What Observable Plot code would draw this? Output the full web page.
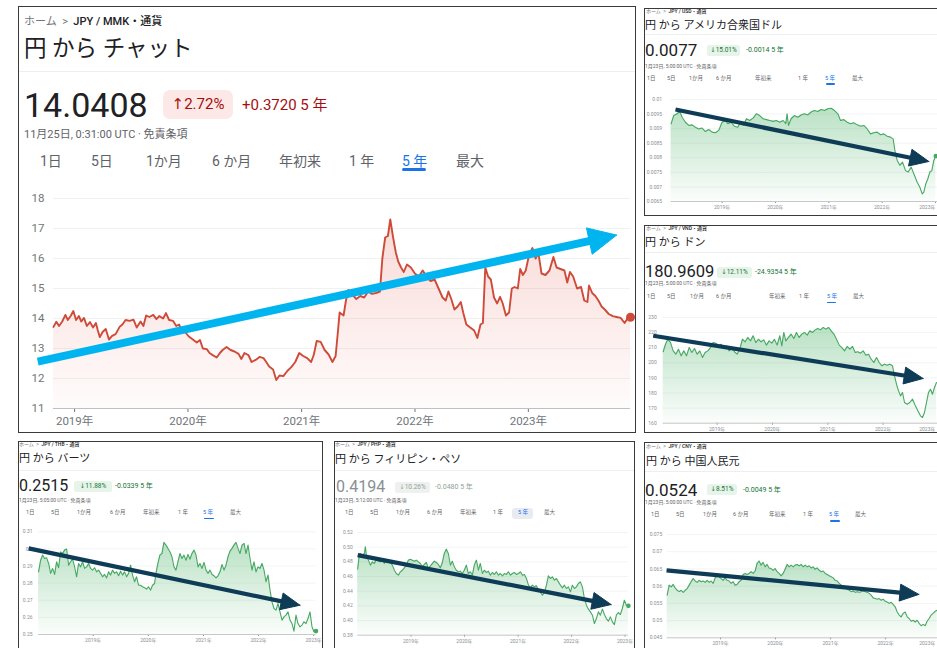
<!DOCTYPE html>
<html><head><meta charset="utf-8">
<script src="https://cdn.jsdelivr.net/npm/d3@7"></script>
<script src="https://cdn.jsdelivr.net/npm/@observablehq/plot@0.6"></script>
<style>
html,body{margin:0;padding:0;background:#fff;overflow:hidden;}
#page{position:relative;width:937px;height:648px;overflow:hidden;background:#fff;font-family:Roboto,"Noto Sans CJK JP",sans-serif;}
.panel{position:absolute;box-sizing:border-box;border:1.5px solid #3a3a3a;background:#fff;}
.t{position:absolute;white-space:pre;line-height:1;transform:translateY(-50%);}
.chart{position:absolute;}
.chart svg{max-width:none !important;overflow:visible;background:transparent !important;}
.badge{position:absolute;display:flex;align-items:center;justify-content:center;white-space:pre;line-height:1;font-family:Roboto,"DejaVu Sans","Noto Sans CJK JP",sans-serif;}
</style></head><body><div id="page"></div>
<script>
// ---------------- data ----------------
const yearTicks = [2019, 2020, 2021, 2022, 2023];

const mmk = [[2018.814,13.72],[2018.839,13.89],[2018.863,13.75],[2018.891,13.90],[2018.919,14.12],[2018.940,13.95],[2018.968,14.10],[2018.989,14.25],[2019.013,13.95],[2019.038,14.08],[2019.059,13.90],[2019.083,14.02],[2019.108,13.75],[2019.136,13.88],[2019.163,13.70],[2019.188,13.85],[2019.205,13.60],[2019.223,13.38],[2019.247,13.55],[2019.275,13.65],[2019.303,13.30],[2019.331,13.42],[2019.362,13.48],[2019.397,13.72],[2019.422,13.80],[2019.450,13.95],[2019.485,13.92],[2019.520,13.96],[2019.548,13.70],[2019.582,13.90],[2019.607,13.75],[2019.631,14.10],[2019.659,14.05],[2019.694,14.12],[2019.722,13.98],[2019.747,14.08],[2019.781,14.00],[2019.806,14.18],[2019.834,13.95],[2019.869,13.92],[2019.897,13.75],[2019.921,13.80],[2019.946,13.60],[2019.974,13.55],[2020.008,13.40],[2020.043,13.30],[2020.078,13.20],[2020.106,13.28],[2020.131,13.00],[2020.166,12.98],[2020.190,12.85],[2020.218,12.78],[2020.253,12.70],[2020.281,12.85],[2020.305,12.95],[2020.340,13.05],[2020.375,12.95],[2020.410,12.90],[2020.445,12.82],[2020.470,12.65],[2020.497,12.85],[2020.532,12.78],[2020.560,12.55],[2020.595,12.62],[2020.630,12.72],[2020.665,12.68],[2020.689,12.55],[2020.714,12.40],[2020.749,12.30],[2020.777,11.95],[2020.805,12.10],[2020.839,12.08],[2020.874,12.25],[2020.909,12.38],[2020.944,12.55],[2020.979,12.85],[2021.014,12.75],[2021.049,12.68],[2021.084,12.55],[2021.108,12.80],[2021.133,13.25],[2021.168,13.22],[2021.203,12.95],[2021.238,12.80],[2021.272,12.55],[2021.300,12.75],[2021.321,13.60],[2021.335,14.20],[2021.370,14.10],[2021.391,14.60],[2021.412,14.95],[2021.447,14.80],[2021.482,14.65],[2021.517,14.75],[2021.552,14.70],[2021.587,14.90],[2021.621,14.82],[2021.656,14.85],[2021.691,14.90],[2021.712,16.00],[2021.737,16.70],[2021.761,16.75],[2021.782,17.30],[2021.807,16.70],[2021.831,16.20],[2021.852,15.90],[2021.877,15.70],[2021.901,15.55],[2021.929,15.80],[2021.964,15.70],[2021.999,15.50],[2022.034,15.40],[2022.068,15.60],[2022.103,15.40],[2022.138,15.25],[2022.173,15.30],[2022.208,15.00],[2022.243,14.70],[2022.271,14.60],[2022.295,14.90],[2022.320,14.65],[2022.348,14.30],[2022.376,14.40],[2022.404,14.55],[2022.425,14.20],[2022.453,13.80],[2022.487,13.70],[2022.522,13.60],[2022.550,13.35],[2022.578,13.80],[2022.599,13.85],[2022.620,15.70],[2022.645,15.40],[2022.669,15.30],[2022.697,14.70],[2022.725,14.50],[2022.750,14.72],[2022.774,14.50],[2022.802,14.10],[2022.830,14.20],[2022.854,15.00],[2022.879,15.05],[2022.907,15.00],[2022.928,15.65],[2022.952,15.45],[2022.977,15.60],[2023.005,16.10],[2023.036,16.35],[2023.064,16.00],[2023.088,16.20],[2023.116,15.50],[2023.151,15.45],[2023.186,15.60],[2023.221,16.05],[2023.249,15.70],[2023.284,15.65],[2023.318,15.60],[2023.343,15.20],[2023.367,15.55],[2023.395,15.40],[2023.430,15.00],[2023.465,15.05],[2023.493,14.60],[2023.521,14.55],[2023.535,15.10],[2023.563,14.85],[2023.591,14.75],[2023.618,14.60],[2023.646,14.40],[2023.674,14.30],[2023.709,14.15],[2023.744,14.08],[2023.779,14.05],[2023.814,14.02],[2023.849,13.85],[2023.877,14.02],[2023.901,14.04]];

const usd = [[2018.042,0.009165],[2018.092,0.00945],[2018.155,0.00951],[2018.205,0.00959],[2018.249,0.00939],[2018.311,0.00922],[2018.374,0.00911],[2018.436,0.00913],[2018.499,0.00905],[2018.561,0.00899],[2018.624,0.00902],[2018.686,0.00890],[2018.749,0.00897],[2018.812,0.00888],[2018.874,0.00886],[2018.937,0.00894],[2018.999,0.00922],[2019.062,0.00928],[2019.106,0.00917],[2019.168,0.00922],[2019.231,0.00908],[2019.293,0.00905],[2019.343,0.00920],[2019.406,0.00911],[2019.456,0.00934],[2019.518,0.00928],[2019.581,0.00936],[2019.643,0.00951],[2019.706,0.00945],[2019.768,0.00934],[2019.831,0.00931],[2019.894,0.00928],[2019.956,0.00925],[2020.019,0.00928],[2020.081,0.00922],[2020.144,0.00928],[2020.194,0.00917],[2020.219,0.00951],[2020.244,0.00911],[2020.294,0.00934],[2020.356,0.00945],[2020.419,0.00939],[2020.481,0.00947],[2020.544,0.00951],[2020.606,0.00947],[2020.669,0.00957],[2020.731,0.00962],[2020.794,0.00959],[2020.857,0.00966],[2020.919,0.00962],[2020.982,0.00968],[2021.044,0.00970],[2021.107,0.00962],[2021.169,0.00951],[2021.219,0.00928],[2021.282,0.00931],[2021.344,0.00922],[2021.407,0.00917],[2021.469,0.00920],[2021.532,0.00913],[2021.595,0.00908],[2021.657,0.00911],[2021.720,0.00899],[2021.782,0.00882],[2021.845,0.00886],[2021.907,0.00888],[2021.970,0.00879],[2022.032,0.00882],[2022.095,0.00874],[2022.157,0.00871],[2022.207,0.00865],[2022.245,0.00819],[2022.283,0.00791],[2022.333,0.00774],[2022.383,0.00785],[2022.439,0.00756],[2022.489,0.00751],[2022.545,0.00768],[2022.608,0.00739],[2022.658,0.00716],[2022.708,0.00699],[2022.752,0.00676],[2022.783,0.00682],[2022.821,0.00711],[2022.858,0.00728],[2022.896,0.00751],[2022.933,0.00756],[2022.970,0.00791],[2023.008,0.00806]];

const vnd = [[2018.023,207.3],[2018.065,212.3],[2018.107,215.6],[2018.156,213.4],[2018.204,207.9],[2018.252,205.7],[2018.300,209.0],[2018.348,204.6],[2018.397,207.9],[2018.445,204.6],[2018.493,210.1],[2018.541,206.8],[2018.590,209.5],[2018.638,205.7],[2018.686,207.9],[2018.734,203.5],[2018.782,206.8],[2018.831,207.9],[2018.879,210.1],[2018.927,213.4],[2018.975,213.0],[2019.024,211.2],[2019.072,212.3],[2019.120,209.5],[2019.168,211.2],[2019.216,207.9],[2019.265,209.5],[2019.313,207.3],[2019.361,205.7],[2019.409,209.0],[2019.457,215.6],[2019.506,213.9],[2019.554,216.8],[2019.602,214.5],[2019.650,217.9],[2019.699,213.4],[2019.747,215.6],[2019.795,213.9],[2019.843,215.2],[2019.891,211.7],[2019.940,214.5],[2019.988,213.0],[2020.036,215.6],[2020.084,211.7],[2020.133,217.9],[2020.169,211.2],[2020.205,220.1],[2020.241,214.5],[2020.289,216.8],[2020.338,219.0],[2020.386,216.1],[2020.434,220.1],[2020.482,216.8],[2020.530,219.0],[2020.579,220.1],[2020.627,218.3],[2020.675,221.2],[2020.723,220.1],[2020.772,221.8],[2020.820,222.7],[2020.868,221.8],[2020.916,223.4],[2020.964,222.3],[2021.013,223.4],[2021.061,221.2],[2021.109,219.0],[2021.157,215.6],[2021.206,211.7],[2021.254,210.1],[2021.302,207.9],[2021.350,210.8],[2021.398,209.0],[2021.447,210.8],[2021.495,206.8],[2021.543,207.3],[2021.591,206.4],[2021.640,207.9],[2021.688,205.0],[2021.736,205.7],[2021.784,202.4],[2021.832,200.2],[2021.881,203.5],[2021.929,200.2],[2021.977,198.0],[2022.025,199.1],[2022.074,198.4],[2022.122,199.1],[2022.170,198.0],[2022.206,191.4],[2022.242,185.8],[2022.279,181.4],[2022.315,178.1],[2022.351,180.3],[2022.387,173.7],[2022.435,172.6],[2022.483,173.7],[2022.532,175.9],[2022.580,171.9],[2022.628,168.2],[2022.676,164.9],[2022.712,163.8],[2022.749,167.1],[2022.785,173.7],[2022.821,180.3],[2022.857,182.5],[2022.893,179.2],[2022.929,183.6],[2022.966,186.9]];

const thb = [[2018.008,0.2866],[2018.045,0.2934],[2018.081,0.2964],[2018.117,0.2944],[2018.154,0.2948],[2018.190,0.2915],[2018.226,0.2857],[2018.262,0.2886],[2018.299,0.2851],[2018.335,0.2925],[2018.371,0.2890],[2018.408,0.2983],[2018.444,0.2973],[2018.480,0.2993],[2018.517,0.2999],[2018.553,0.2905],[2018.589,0.2925],[2018.625,0.2940],[2018.662,0.2895],[2018.698,0.2837],[2018.734,0.2915],[2018.771,0.2895],[2018.807,0.2925],[2018.843,0.2886],[2018.880,0.2895],[2018.916,0.2915],[2018.952,0.2886],[2018.988,0.2876],[2019.025,0.2890],[2019.061,0.2866],[2019.097,0.2876],[2019.134,0.2857],[2019.170,0.2837],[2019.206,0.2851],[2019.243,0.2831],[2019.279,0.2866],[2019.315,0.2847],[2019.351,0.2876],[2019.388,0.2857],[2019.424,0.2866],[2019.460,0.2843],[2019.497,0.2870],[2019.533,0.2847],[2019.569,0.2866],[2019.606,0.2837],[2019.642,0.2857],[2019.678,0.2905],[2019.714,0.2847],[2019.751,0.2808],[2019.787,0.2837],[2019.823,0.2788],[2019.860,0.2788],[2019.896,0.2779],[2019.932,0.2773],[2019.968,0.2765],[2020.005,0.2779],[2020.041,0.2759],[2020.077,0.2788],[2020.114,0.2798],[2020.138,0.2857],[2020.174,0.2915],[2020.210,0.2964],[2020.247,0.2973],[2020.283,0.3038],[2020.319,0.3022],[2020.356,0.3003],[2020.392,0.2983],[2020.428,0.2954],[2020.465,0.2895],[2020.501,0.2876],[2020.537,0.2925],[2020.573,0.2973],[2020.610,0.2944],[2020.646,0.2964],[2020.682,0.2934],[2020.719,0.2968],[2020.755,0.2940],[2020.791,0.2973],[2020.828,0.2993],[2020.864,0.2964],[2020.900,0.2895],[2020.936,0.2915],[2020.973,0.2886],[2021.009,0.2921],[2021.045,0.2876],[2021.082,0.2857],[2021.118,0.2876],[2021.154,0.2851],[2021.191,0.2843],[2021.227,0.2831],[2021.263,0.2843],[2021.299,0.2866],[2021.336,0.2909],[2021.372,0.2876],[2021.408,0.2905],[2021.445,0.2954],[2021.481,0.2987],[2021.517,0.3003],[2021.553,0.3022],[2021.590,0.3038],[2021.626,0.3003],[2021.662,0.2973],[2021.699,0.3022],[2021.735,0.3032],[2021.771,0.2973],[2021.808,0.3022],[2021.844,0.2944],[2021.880,0.2876],[2021.916,0.2925],[2021.953,0.2866],[2021.989,0.2895],[2022.025,0.2886],[2022.062,0.2915],[2022.098,0.2876],[2022.134,0.2808],[2022.171,0.2847],[2022.207,0.2759],[2022.243,0.2691],[2022.279,0.2652],[2022.316,0.2642],[2022.352,0.2681],[2022.388,0.2632],[2022.425,0.2584],[2022.461,0.2603],[2022.497,0.2613],[2022.534,0.2632],[2022.570,0.2584],[2022.606,0.2564],[2022.642,0.2520],[2022.679,0.2613],[2022.715,0.2564],[2022.751,0.2545],[2022.788,0.2555],[2022.824,0.2574],[2022.860,0.2564],[2022.897,0.2593],[2022.933,0.2632],[2022.969,0.2545],[2023.005,0.2516],[2023.042,0.2520]];

const php = [[2018.003,0.4700],[2018.028,0.4868],[2018.053,0.4914],[2018.091,0.4891],[2018.128,0.4914],[2018.147,0.5005],[2018.165,0.4891],[2018.203,0.4823],[2018.240,0.4755],[2018.278,0.4800],[2018.315,0.4777],[2018.352,0.4836],[2018.390,0.4809],[2018.427,0.4800],[2018.464,0.4823],[2018.502,0.4777],[2018.539,0.4836],[2018.577,0.4809],[2018.614,0.4791],[2018.651,0.4755],[2018.689,0.4686],[2018.726,0.4641],[2018.764,0.4618],[2018.801,0.4664],[2018.838,0.4686],[2018.876,0.4718],[2018.913,0.4755],[2018.950,0.4823],[2018.988,0.4836],[2019.025,0.4823],[2019.063,0.4809],[2019.100,0.4823],[2019.137,0.4800],[2019.175,0.4777],[2019.212,0.4732],[2019.250,0.4764],[2019.287,0.4791],[2019.324,0.4709],[2019.362,0.4745],[2019.399,0.4777],[2019.436,0.4809],[2019.474,0.4791],[2019.511,0.4764],[2019.549,0.4718],[2019.586,0.4791],[2019.623,0.4914],[2019.661,0.4973],[2019.698,0.4914],[2019.736,0.4755],[2019.773,0.4809],[2019.810,0.4732],[2019.848,0.4686],[2019.885,0.4664],[2019.922,0.4673],[2019.960,0.4641],[2019.997,0.4686],[2020.035,0.4755],[2020.072,0.4641],[2020.109,0.4664],[2020.147,0.4618],[2020.184,0.4755],[2020.222,0.4823],[2020.259,0.4686],[2020.296,0.4777],[2020.334,0.4641],[2020.371,0.4686],[2020.408,0.4655],[2020.446,0.4673],[2020.483,0.4618],[2020.521,0.4655],[2020.558,0.4627],[2020.595,0.4664],[2020.633,0.4618],[2020.670,0.4641],[2020.708,0.4609],[2020.745,0.4641],[2020.782,0.4627],[2020.820,0.4664],[2020.857,0.4618],[2020.894,0.4641],[2020.932,0.4655],[2020.969,0.4627],[2021.007,0.4641],[2021.044,0.4664],[2021.081,0.4618],[2021.119,0.4627],[2021.156,0.4573],[2021.194,0.4482],[2021.231,0.4445],[2021.268,0.4482],[2021.306,0.4459],[2021.343,0.4473],[2021.380,0.4414],[2021.418,0.4382],[2021.455,0.4345],[2021.493,0.4382],[2021.530,0.4482],[2021.567,0.4609],[2021.605,0.4573],[2021.642,0.4595],[2021.679,0.4550],[2021.717,0.4573],[2021.754,0.4527],[2021.792,0.4482],[2021.829,0.4445],[2021.866,0.4482],[2021.904,0.4436],[2021.941,0.4459],[2021.979,0.4391],[2022.016,0.4482],[2022.053,0.4436],[2022.091,0.4459],[2022.128,0.4505],[2022.165,0.4527],[2022.203,0.4459],[2022.240,0.4300],[2022.278,0.4209],[2022.315,0.4155],[2022.352,0.4118],[2022.390,0.4073],[2022.427,0.3959],[2022.465,0.4027],[2022.502,0.4118],[2022.539,0.4073],[2022.577,0.4155],[2022.614,0.4082],[2022.651,0.4027],[2022.689,0.3991],[2022.726,0.4050],[2022.764,0.3982],[2022.801,0.3945],[2022.838,0.4073],[2022.876,0.4109],[2022.913,0.4082],[2022.950,0.4164],[2022.988,0.4277],[2023.025,0.4209],[2023.063,0.4200]];

const cny = [[2018.030,0.0574],[2018.066,0.0603],[2018.103,0.0598],[2018.139,0.0605],[2018.175,0.0595],[2018.212,0.0588],[2018.248,0.0584],[2018.284,0.0588],[2018.321,0.0582],[2018.357,0.0588],[2018.394,0.0593],[2018.430,0.0603],[2018.466,0.0613],[2018.503,0.0622],[2018.539,0.0615],[2018.575,0.0611],[2018.612,0.0617],[2018.648,0.0613],[2018.684,0.0615],[2018.721,0.0611],[2018.757,0.0617],[2018.794,0.0611],[2018.830,0.0615],[2018.866,0.0608],[2018.903,0.0624],[2018.939,0.0630],[2018.975,0.0627],[2019.012,0.0622],[2019.048,0.0617],[2019.084,0.0624],[2019.121,0.0617],[2019.157,0.0615],[2019.194,0.0608],[2019.230,0.0613],[2019.266,0.0603],[2019.303,0.0605],[2019.339,0.0613],[2019.375,0.0617],[2019.412,0.0634],[2019.448,0.0637],[2019.484,0.0634],[2019.521,0.0637],[2019.557,0.0642],[2019.594,0.0637],[2019.630,0.0644],[2019.666,0.0666],[2019.703,0.0673],[2019.739,0.0661],[2019.775,0.0669],[2019.812,0.0656],[2019.848,0.0663],[2019.884,0.0653],[2019.921,0.0651],[2019.957,0.0646],[2019.994,0.0651],[2020.030,0.0642],[2020.066,0.0637],[2020.103,0.0630],[2020.139,0.0637],[2020.175,0.0649],[2020.212,0.0663],[2020.248,0.0656],[2020.284,0.0661],[2020.321,0.0656],[2020.357,0.0661],[2020.394,0.0663],[2020.430,0.0659],[2020.466,0.0663],[2020.503,0.0656],[2020.539,0.0661],[2020.575,0.0656],[2020.612,0.0659],[2020.648,0.0653],[2020.684,0.0656],[2020.721,0.0649],[2020.757,0.0653],[2020.794,0.0646],[2020.830,0.0642],[2020.866,0.0644],[2020.903,0.0637],[2020.939,0.0634],[2020.975,0.0630],[2021.012,0.0627],[2021.048,0.0624],[2021.084,0.0617],[2021.121,0.0615],[2021.157,0.0608],[2021.194,0.0603],[2021.230,0.0598],[2021.266,0.0595],[2021.303,0.0591],[2021.339,0.0588],[2021.375,0.0584],[2021.412,0.0586],[2021.448,0.0582],[2021.484,0.0584],[2021.521,0.0582],[2021.557,0.0584],[2021.594,0.0586],[2021.630,0.0584],[2021.666,0.0582],[2021.703,0.0579],[2021.739,0.0574],[2021.775,0.0566],[2021.812,0.0564],[2021.848,0.0562],[2021.884,0.0564],[2021.921,0.0559],[2021.957,0.0562],[2021.994,0.0556],[2022.030,0.0554],[2022.066,0.0550],[2022.103,0.0553],[2022.139,0.0547],[2022.175,0.0540],[2022.212,0.0525],[2022.248,0.0516],[2022.284,0.0511],[2022.321,0.0521],[2022.357,0.0525],[2022.394,0.0511],[2022.430,0.0506],[2022.466,0.0498],[2022.503,0.0501],[2022.539,0.0496],[2022.575,0.0501],[2022.612,0.0492],[2022.648,0.0485],[2022.684,0.0489],[2022.721,0.0485],[2022.757,0.0498],[2022.794,0.0506],[2022.830,0.0516],[2022.866,0.0521],[2022.903,0.0527],[2022.939,0.0530]];

// trend arrows: [start, tip] as [decimal year, value]
const mmkArrow = [[2018.675, 12.56], [2023.779, 16.78]];
const usdArrow = [[2018.124, 0.009657], [2022.877, 0.007873]];
const vndArrow = [[2017.842, 217.9], [2022.724, 189.6]];
const thbArrow = [[2017.827, 0.3003], [2022.751, 0.2671]];
const phpArrow = [[2018.003, 0.4891], [2022.739, 0.4218]];
const cnyArrow = [[2018.018, 0.0646], [2022.606, 0.0576]];

// y ticks and their labels
const mmkYTicks = [11, 12, 13, 14, 15, 16, 17, 18];
const mmkYLabels = ["11", "12", "13", "14", "15", "16", "17", "18"];
const usdYTicks = [0.0065, 0.007, 0.0075, 0.008, 0.0085, 0.009, 0.0095, 0.01];
const usdYLabels = ["0.0065", "0.007", "0.0075", "0.008", "0.0085", "0.009", "0.0095", "0.01"];
const vndYTicks = [160, 170, 180, 190, 200, 210, 220, 230];
const vndYLabels = ["160", "170", "180", "190", "200", "210", "220", "230"];
const thbYTicks = [0.25, 0.26, 0.27, 0.28, 0.29, 0.3, 0.31];
const thbYLabels = ["0.25", "0.26", "0.27", "0.28", "0.29", "0.3", "0.31"];
const phpYTicks = [0.38, 0.40, 0.42, 0.44, 0.46, 0.48, 0.50, 0.52];
const phpYLabels = ["0.38", "0.40", "0.42", "0.44", "0.46", "0.48", "0.50", "0.52"];
const cnyYTicks = [0.045, 0.05, 0.055, 0.06, 0.065, 0.07, 0.075];
const cnyYLabels = ["0.045", "0.05", "0.055", "0.06", "0.065", "0.07", "0.075"];

// header texts
const crumbs = ["JPY / MMK・通貨", "JPY / USD・通貨", "JPY / VND・通貨", "JPY / THB・通貨", "JPY / PHP・通貨", "JPY / CNY・通貨"];
const titles = ["円 から チャット", "円 から アメリカ合衆国ドル", "円 から ドン", "円 から バーツ", "円 から フィリピン・ペソ", "円 から 中国人民元"];
const prices = ["14.0408", "0.0077", "180.9609", "0.2515", "0.4194", "0.0524"];
const pcts = ["↑2.72%", "↓15.01%", "↓12.11%", "↓11.88%", "↓10.26%", "↓8.51%"];
const changes = ["+0.3720 5 年", "-0.0014 5 年", "-24.9354 5 年", "-0.0339 5 年", "-0.0480 5 年", "-0.0049 5 年"];
const stamps = ["11月25日, 0:31:00 UTC · 免責条項", "1月23日, 5:00:00 UTC · 免責条項", "1月23日, 5:00:00 UTC · 免責条項", "1月23日, 5:05:00 UTC · 免責条項", "1月23日, 5:12:00 UTC · 免責条項", "1月23日, 5:00:00 UTC · 免責条項"];
const tabLabels = ["1日", "5日", "1か月", "6 か月", "年初来", "1 年", "5 年", "最大"];

// ---------------- layout / style ----------------
const RED = {line: "#cf4b39", fill: "#e0584a", fTop: 0.22, fBot: 0.02, badgeBg: "#fce8e6", text: "#a50e0e"};
const GREEN = {line: "#46a862", fill: "#34a853", fTop: 0.34, fBot: 0.02, badgeBg: "#e6f4ea", text: "#137333"};
const GRAYG = {line: "#46a862", fill: "#34a853", fTop: 0.34, fBot: 0.02, badgeBg: "#eef1ef", text: "#8fa395"};
const PAGE_RIGHT = 936;

const layout = [
  {box: [18, 6, 636, 433], pal: RED, crumb: [24, 21, 11], title: [24, 48, 22.5], div: [71, 19, 635], price: [24, 105, 34, "#202124"],
   badge: [163, 90, 70, 29, 15, 7], change: [242, 105, 15], stamp: [24, 134, 11], tabY: 161, tabFs: 14,
   tabX: [40, 91, 146, 212, 279, 349, 402, 456], ul: [402, 167.5, 24, 3],
   chart: {series: mmk, arrow: mmkArrow, yTicks: mmkYTicks, yLabels: mmkYLabels, xDomain: [2018.814, 2023.901],
     left: 18, top: 185, w: 618, h: 248, plotL: 53, plotR: 630, yTopPx: 198, yBotPx: 408,
     fs: 11.5, axisColor: "#70757a", xTickSize: 4, xTickPad: 4, yPad: 9, lineW: 1.9, dotR: 4.5,
     baseColor: "#bdc1c6", arrowColor: "#00b5ef", shaftW: 8, headL: 28, headW: 27}},
  {box: [644, 8, 990, 215.5], pal: GREEN, crumb: [646, 11, 5], title: [645, 25, 11], div: [34, 645, 937], price: [645, 50, 17, "#202124"],
   badge: [707, 44.5, 33, 11, 6.5, 2.5], change: [746, 50, 7], stamp: [645, 66, 5], tabY: 79, tabFs: 5.5,
   tabX: [647, 667, 689, 716, 755, 798, 825, 852], ul: [825.5, 83, 9, 1.5],
   chart: {series: usd, arrow: usdArrow, yTicks: usdYTicks, yLabels: usdYLabels, xDomain: [2018.042, 2023.06],
     left: 645, top: 90, w: 300, h: 125, plotL: 670.6, plotR: 938.1, yTopPx: 99, yBotPx: 201,
     fs: 5, axisColor: "#8a8f94", xTickSize: 2, xTickPad: 2, yPad: 9, lineW: 1.1, dotR: 2.3,
     baseColor: "#c8c8c8", arrowColor: "#0e3b55", shaftW: 4.2, headL: 19, headW: 17}},
  {box: [644, 224.5, 990, 433], pal: GREEN, crumb: [646, 228, 5], title: [645, 242, 11], div: [252, 645, 937], price: [645, 272, 16.5, "#202124"],
   badge: [717, 266.5, 35, 11, 6.5, 2.5], change: [755, 272, 7], stamp: [645, 283, 5], tabY: 297, tabFs: 5.5,
   tabX: [647, 667, 690, 716, 769, 799, 827, 853], ul: [827, 301.5, 9, 1.5],
   chart: {series: vnd, arrow: vndArrow, yTicks: vndYTicks, yLabels: vndYLabels, xDomain: [2018.023, 2023.06],
     left: 645, top: 308, w: 300, h: 124, plotL: 662.7, plotR: 941.2, yTopPx: 317, yBotPx: 422.7,
     fs: 5, axisColor: "#8a8f94", xTickSize: 2, xTickPad: 2, yPad: 6.5, lineW: 1.1, dotR: 0,
     baseColor: "#c8c8c8", arrowColor: "#0e3b55", shaftW: 4.2, headL: 19, headW: 17}},
  {box: [17.5, 440.5, 322.5, 660], pal: GREEN, crumb: [19, 444, 5], title: [19, 458, 11], div: [469.5, 19, 321], price: [19, 486, 16, "#202124"],
   badge: [74, 480.5, 38, 11, 6.5, 2.5], change: [115, 486, 7], stamp: [19, 500, 5], tabY: 513, tabFs: 5.5,
   tabX: [26, 51, 77, 110, 143, 178, 203, 230], ul: [203.5, 517.5, 10, 1.5],
   chart: {series: thb, arrow: thbArrow, yTicks: thbYTicks, yLabels: thbYLabels, xDomain: [2018.008, 2023.042],
     left: 18.5, top: 523, w: 303, h: 125, plotL: 37.6, plotR: 315, yTopPx: 531.3, yBotPx: 634,
     fs: 5, axisColor: "#8a8f94", xTickSize: 2, xTickPad: 2, yPad: 6, lineW: 1.1, dotR: 2.3,
     baseColor: "#c8c8c8", arrowColor: "#0e3b55", shaftW: 4.2, headL: 19, headW: 17}},
  {box: [333.5, 440.5, 635, 660], pal: GRAYG, crumb: [335, 444, 5], title: [335, 458.7, 11], div: [469.5, 335, 634], price: [336, 487, 16, "#8a8f94"],
   badge: [395, 481.5, 35, 11, 6.5, 2.5], change: [435, 487, 7], stamp: [335, 500, 5], tabY: 513, tabFs: 5.5,
   tabX: [345, 370, 396, 427, 460, 493, 518, 544], hl: [512, 507.5, 21, 11],
   chart: {series: php, arrow: phpArrow, yTicks: phpYTicks, yLabels: phpYLabels, xDomain: [2018.003, 2023.063],
     left: 334.5, top: 523, w: 300, h: 125, plotL: 356.7, plotR: 627.4, yTopPx: 532, yBotPx: 634.7,
     fs: 5, axisColor: "#8a8f94", xTickSize: 2, xTickPad: 2, yPad: 5, lineW: 1.1, dotR: 2.3,
     baseColor: "#c8c8c8", arrowColor: "#0e3b55", shaftW: 4.2, headL: 19, headW: 17}},
  {box: [644, 442, 990, 660], pal: GREEN, crumb: [646, 446, 5], title: [646, 460.7, 11], div: [471, 645, 937], price: [645, 489.7, 17, "#202124"],
   badge: [707, 484, 30, 11, 6.5, 2.5], change: [743, 489.7, 7], stamp: [645, 502, 5], tabY: 515.3, tabFs: 5.5,
   tabX: [651, 676, 703, 733, 769, 803, 829, 855], ul: [829.5, 520, 10, 1.5],
   chart: {series: cny, arrow: cnyArrow, yTicks: cnyYTicks, yLabels: cnyYLabels, xDomain: [2018.030, 2023.06],
     left: 645, top: 525, w: 300, h: 123, plotL: 666.7, plotR: 943.3, yTopPx: 534, yBotPx: 637.3,
     fs: 5, axisColor: "#8a8f94", xTickSize: 2, xTickPad: 2, yPad: 5, lineW: 1.1, dotR: 0,
     baseColor: "#c8c8c8", arrowColor: "#0e3b55", shaftW: 4.2, headL: 19, headW: 17}}
];

// ---------------- helpers ----------------
const page = document.getElementById("page");
const FONT = "Roboto, 'Noto Sans CJK JP', sans-serif";
const dec = y => { const yr = Math.floor(y); const a = Date.UTC(yr, 0, 1), b = Date.UTC(yr + 1, 0, 1); return new Date(a + (y - yr) * (b - a)); };
const yearLabel = y => y + "年";

function el(cls, x, y, css, text) {
  const e = document.createElement("div");
  e.className = cls;
  e.style.left = x + "px"; e.style.top = y + "px";
  Object.assign(e.style, css || {});
  if (text != null) e.textContent = text;
  page.appendChild(e);
  return e;
}

function gradient(id, color, o1, o2) {
  return () => {
    const ns = "http://www.w3.org/2000/svg";
    const defs = document.createElementNS(ns, "defs");
    const lg = document.createElementNS(ns, "linearGradient");
    lg.setAttribute("id", id);
    lg.setAttribute("x1", "0"); lg.setAttribute("x2", "0"); lg.setAttribute("y1", "0"); lg.setAttribute("y2", "1");
    for (const [off, op] of [[0, o1], [1, o2]]) {
      const s = document.createElementNS(ns, "stop");
      s.setAttribute("offset", off); s.setAttribute("stop-color", color); s.setAttribute("stop-opacity", op);
      lg.appendChild(s);
    }
    defs.appendChild(lg);
    return defs;
  };
}

function header(L, i) {
  const [bx0, by0, bx1, by1] = L.box;
  el("panel", bx0, by0, {width: (bx1 - bx0) + "px", height: (by1 - by0) + "px"});
  const c = el("t", L.crumb[0], L.crumb[1], {fontSize: L.crumb[2] + "px", color: "#70757a"});
  c.textContent = "ホーム  >  ";
  const b = document.createElement("span");
  b.style.color = "#202124"; b.style.fontWeight = "500"; b.textContent = crumbs[i];
  c.appendChild(b);
  el("t", L.title[0], L.title[1], {fontSize: L.title[2] + "px", color: "#202124"}, titles[i]);
  el("t", L.div[1], L.div[0], {width: (L.div[2] - L.div[1]) + "px", height: "1px", background: "#eceef0", transform: "none"});
  el("t", L.price[0], L.price[1], {fontSize: L.price[2] + "px", color: L.price[3]}, prices[i]);
  const [qx, qy, qw, qh, qfs, qr] = L.badge;
  el("badge", qx, qy, {width: qw + "px", height: qh + "px", background: L.pal.badgeBg, color: L.pal.text, fontSize: qfs + "px", borderRadius: qr + "px"}, pcts[i]);
  el("t", L.change[0], L.change[1], {fontSize: L.change[2] + "px", color: L.pal.text}, changes[i]);
  el("t", L.stamp[0], L.stamp[1], {fontSize: L.stamp[2] + "px", color: "#5f6368"}, stamps[i]);
  if (L.hl) el("t", L.hl[0], L.hl[1], {width: L.hl[2] + "px", height: L.hl[3] + "px", background: "#e8ecf2", borderRadius: "3px", transform: "none"});
  tabLabels.forEach((s, k) => el("t", L.tabX[k], L.tabY, {fontSize: L.tabFs + "px", color: k === 6 ? "#1a73e8" : "#5f6368"}, s));
  if (L.ul) el("t", L.ul[0], L.ul[1], {width: L.ul[2] + "px", height: L.ul[3] + "px", background: "#1a73e8", borderRadius: "2px", transform: "none"});
}

function chart(L, i) {
  const c = L.chart;
  const data = c.series.map(([t, v]) => ({date: dec(t), v}));
  const yT = c.yTicks;
  const lab = new Map(yT.map((v, k) => [v, c.yLabels[k]]));
  const gid = "grad" + i;
  const xTickDates = yearTicks.map(y => new Date(Date.UTC(y, 0, 1)));
  const makeOpts = (hidden) => ({
    width: c.w, height: c.h,
    marginLeft: c.plotL - c.left, marginRight: c.left + c.w - c.plotR,
    marginTop: c.yTopPx - c.top, marginBottom: c.top + c.h - c.yBotPx,
    style: {background: "transparent", color: c.axisColor, fontSize: c.fs + "px", fontFamily: FONT, overflow: "visible", maxWidth: "none"},
    x: {type: "utc", domain: c.xDomain.map(dec), ticks: xTickDates,
        tickFormat: d => hidden.has(d.getUTCFullYear()) ? "" : yearLabel(d.getUTCFullYear()),
        tickSize: c.xTickSize, tickPadding: c.xTickPad, label: null},
    y: {domain: [yT[0], yT[yT.length - 1]], ticks: yT, tickFormat: d => lab.has(d) ? lab.get(d) : String(d),
        tickSize: 0, tickPadding: c.yPad, grid: true, label: null}
  });
  const marks = [
    gradient(gid, L.pal.fill, L.pal.fTop, L.pal.fBot),
    Plot.areaY(data, {x: "date", y1: () => yT[0], y2: "v", fill: `url(#${gid})`}),
    Plot.ruleY([yT[0]], {stroke: c.baseColor, strokeWidth: 1}),
    Plot.line(data, {x: "date", y: "v", stroke: L.pal.line, strokeWidth: c.lineW})
  ];
  if (c.dotR) marks.push(Plot.dot(data.slice(-1), {x: "date", y: "v", r: c.dotR, fill: L.pal.line, stroke: "none"}));

  // first pass: read the scales to build the arrow in screen space
  const probe = Plot.plot({...makeOpts(new Set()), marks});
  const sx = probe.scale("x"), sy = probe.scale("y");
  const [A, B] = c.arrow;
  const p0 = [sx.apply(dec(A[0])), sy.apply(A[1])];
  const p1 = [sx.apply(dec(B[0])), sy.apply(B[1])];
  const dx = p1[0] - p0[0], dy = p1[1] - p0[1], len = Math.hypot(dx, dy);
  const ux = dx / len, uy = dy / len, nx = -uy, ny = ux;
  const bx = p1[0] - ux * c.headL, by = p1[1] - uy * c.headL;
  const toData = ([px, py]) => ({date: sx.invert(px), v: sy.invert(py)});
  const shaft = [p0, [p1[0] - ux * c.headL * 0.6, p1[1] - uy * c.headL * 0.6]].map(toData);
  const head = [p1, [bx + nx * c.headW / 2, by + ny * c.headW / 2], [bx - nx * c.headW / 2, by - ny * c.headW / 2], p1].map(toData);

  // year labels that would run off the page edge are right-aligned to it
  const halfW = c.fs * 1.65;
  const edge = yearTicks.filter((y, k) => c.left + sx.apply(xTickDates[k]) + halfW > PAGE_RIGHT);
  const extra = [];
  if (edge.length) {
    const edgeX = sx.invert(PAGE_RIGHT - c.left - 1);
    extra.push(Plot.text(edge, {x: () => edgeX, y: () => yT[0], text: d => yearLabel(d), textAnchor: "end", lineAnchor: "top",
      dy: c.xTickSize + c.xTickPad, fontSize: c.fs, fill: c.axisColor}));
  }

  const fig = Plot.plot({...makeOpts(new Set(edge)), marks: [...marks,
    Plot.line(shaft, {x: "date", y: "v", stroke: c.arrowColor, strokeWidth: c.shaftW, strokeLinecap: "butt"}),
    Plot.line(head, {x: "date", y: "v", fill: c.arrowColor, stroke: c.arrowColor, strokeWidth: 1, strokeLinejoin: "miter"}),
    ...extra
  ]});
  fig.style.background = "transparent";
  fig.style.maxWidth = "none";
  fig.style.overflow = "visible";
  const holder = el("chart", c.left, c.top, {width: c.w + "px", height: c.h + "px"});
  holder.appendChild(fig);
}

layout.forEach((L, i) => header(L, i));
layout.forEach((L, i) => chart(L, i));
</script>
</body></html>
